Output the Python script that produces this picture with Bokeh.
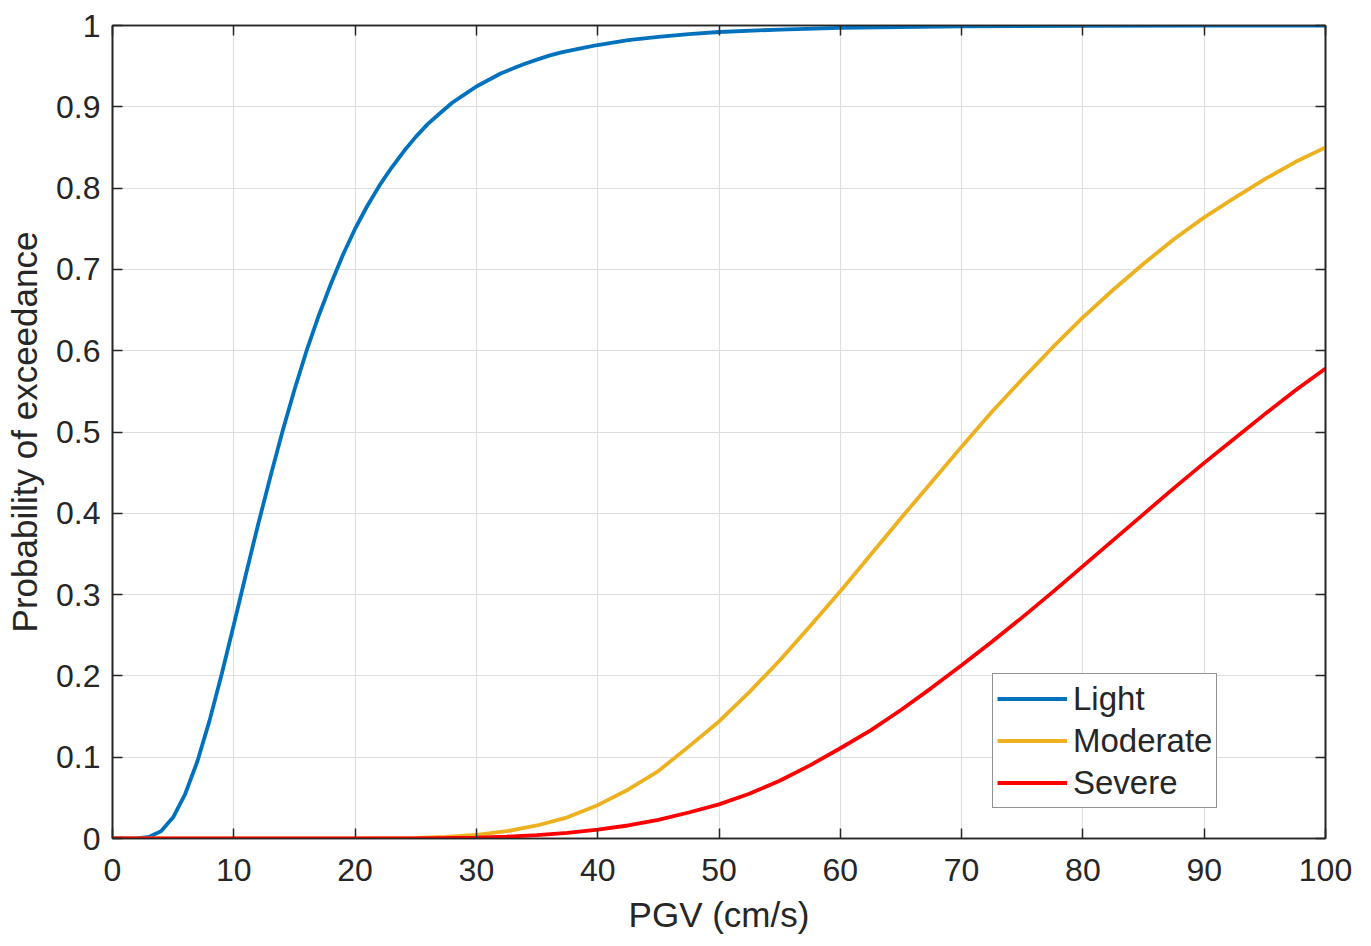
from bokeh.plotting import figure
from bokeh.models import LinearAxis, FixedTicker, CustomJSTickFormatter
from bokeh.embed import file_html
from bokeh.resources import INLINE

# ---- data ----
light_x = [0, 1, 2, 3, 4, 5, 6, 7, 8, 9, 10, 11, 12, 13, 14, 15, 16, 17, 18, 19, 20,
           21, 22, 23, 24, 25, 26, 27, 28, 29, 30, 31, 32, 33, 34, 35, 36, 37, 38, 39, 40,
           42.5, 45, 47.5, 50, 55, 60, 70, 80, 90, 100]
light_p = [0, 0, 0.0001, 0.002, 0.009, 0.026, 0.055, 0.095, 0.145, 0.202, 0.263, 0.325,
           0.386, 0.444, 0.5, 0.552, 0.600, 0.643, 0.682, 0.718, 0.750,
           0.778, 0.803, 0.825, 0.845, 0.863, 0.879, 0.892, 0.905, 0.915, 0.925,
           0.933, 0.941, 0.947, 0.953, 0.958, 0.963, 0.967, 0.970, 0.973, 0.976,
           0.982, 0.986, 0.9895, 0.992, 0.995, 0.997, 0.999, 0.9995, 0.9998, 0.9999]

moderate_x = [0, 10, 20, 25, 27.5, 30, 32.5, 35, 37.5, 40, 42.5, 45, 47.5, 50, 52.5, 55,
              57.5, 60, 62.5, 65, 67.5, 70, 72.5, 75, 77.5, 80, 82.5, 85, 87.5, 90,
              92.5, 95, 97.5, 100]
moderate_p = [0, 0, 0.0001, 0.0008, 0.002, 0.0045, 0.009, 0.016, 0.026, 0.041, 0.060,
              0.083, 0.113, 0.144, 0.180, 0.219, 0.261, 0.304, 0.349, 0.394, 0.438,
              0.482, 0.525, 0.565, 0.604, 0.641, 0.675, 0.707, 0.737, 0.764, 0.788,
              0.811, 0.832, 0.850]

severe_x = [0, 10, 20, 25, 30, 32.5, 35, 37.5, 40, 42.5, 45, 47.5, 50, 52.5, 55, 57.5,
            60, 62.5, 65, 67.5, 70, 72.5, 75, 77.5, 80, 82.5, 85, 87.5, 90, 92.5, 95,
            97.5, 100]
severe_p = [0, 0, 0, 0.0002, 0.0011, 0.0023, 0.0041, 0.007, 0.011, 0.016, 0.023, 0.032,
            0.042, 0.055, 0.071, 0.090, 0.111, 0.133, 0.158, 0.185, 0.213, 0.242, 0.272,
            0.303, 0.335, 0.367, 0.399, 0.431, 0.462, 0.492, 0.522, 0.551, 0.578]

series_names = ["Light", "Moderate", "Severe"]

x_ticks = [0, 10, 20, 30, 40, 50, 60, 70, 80, 90, 100]
y_ticks = [0, 0.1, 0.2, 0.3, 0.4, 0.5, 0.6, 0.7, 0.8, 0.9, 1]
y_tick_labels = ["0", "0.1", "0.2", "0.3", "0.4", "0.5", "0.6", "0.7", "0.8", "0.9", "1"]

x_label = "PGV (cm/s)"
y_label = "Probability of exceedance"

# ---- styling ----
FONT = "Liberation Sans"
DARK = "#262626"
GRID = "#dedede"
colors = ["#0072BD", "#EDB120", "#FF0000"]

p = figure(frame_width=1213, frame_height=813, x_range=(0, 100), y_range=(0, 1),
           output_backend="svg", toolbar_location=None,
           min_border_left=112, min_border_right=30, min_border_top=25, min_border_bottom=92)
p.background_fill_color = "white"
p.border_fill_color = "white"
p.outline_line_color = DARK
p.outline_line_width = 1.6

for xs, ys, c, name in zip([light_x, moderate_x, severe_x],
                           [light_p, moderate_p, severe_p], colors, series_names):
    p.line(xs, ys, line_color=c, line_width=3.8, legend_label=name)

# axes
xa = p.xaxis[0]
ya = p.yaxis[0]
xa.ticker = FixedTicker(ticks=x_ticks)
ya.ticker = FixedTicker(ticks=y_ticks)
ya.major_label_overrides = {t: l for t, l in zip(y_ticks, y_tick_labels)}
xa.major_label_overrides = {t: str(t) for t in x_ticks}
for ax in (xa, ya):
    ax.axis_line_color = DARK
    ax.axis_line_width = 1.6
    ax.major_tick_line_color = DARK
    ax.major_tick_line_width = 1.5
    ax.major_tick_in = 10
    ax.major_tick_out = 0
    ax.minor_tick_line_color = None
    ax.major_label_text_font = FONT
    ax.major_label_text_font_size = "32px"
    ax.major_label_text_color = DARK
    ax.axis_label_text_font = FONT
    ax.axis_label_text_font_size = "35px"
    ax.axis_label_text_font_style = "normal"
    ax.axis_label_text_color = DARK
xa.axis_label = x_label
ya.axis_label = y_label
xa.major_label_standoff = 20
xa.axis_label_standoff = 11
ya.major_label_standoff = 12
ya.axis_label_standoff = 9

# top / right tick marks (no labels)
empty = CustomJSTickFormatter(code="return ''")
top = LinearAxis(ticker=FixedTicker(ticks=x_ticks), formatter=empty)
right = LinearAxis(ticker=FixedTicker(ticks=y_ticks), formatter=empty)
for ax in (top, right):
    ax.axis_line_color = DARK
    ax.axis_line_width = 1.6
    ax.major_tick_line_color = DARK
    ax.major_tick_line_width = 1.5
    ax.major_tick_in = 10
    ax.major_tick_out = 0
    ax.minor_tick_line_color = None
    ax.major_label_standoff = 0
    ax.major_label_text_font_size = "1px"
p.add_layout(top, "above")
p.add_layout(right, "right")

# grid
p.xgrid.ticker = FixedTicker(ticks=x_ticks)
p.ygrid.ticker = FixedTicker(ticks=y_ticks)
for g in (p.xgrid, p.ygrid):
    g.grid_line_color = GRID
    g.grid_line_width = 1

# legend
lg = p.legend[0]
lg.location = (880, 30)
lg.margin = 0
lg.padding = 4
lg.spacing = 1
lg.glyph_width = 70
lg.glyph_height = 41
lg.label_height = 41
lg.label_standoff = 6
lg.label_text_font = FONT
lg.label_text_font_size = "33px"
lg.label_text_color = DARK
lg.border_line_color = DARK
lg.border_line_width = 1.2
lg.background_fill_color = "white"
lg.background_fill_alpha = 1

open("out.html", "w").write(file_html(p, INLINE))
